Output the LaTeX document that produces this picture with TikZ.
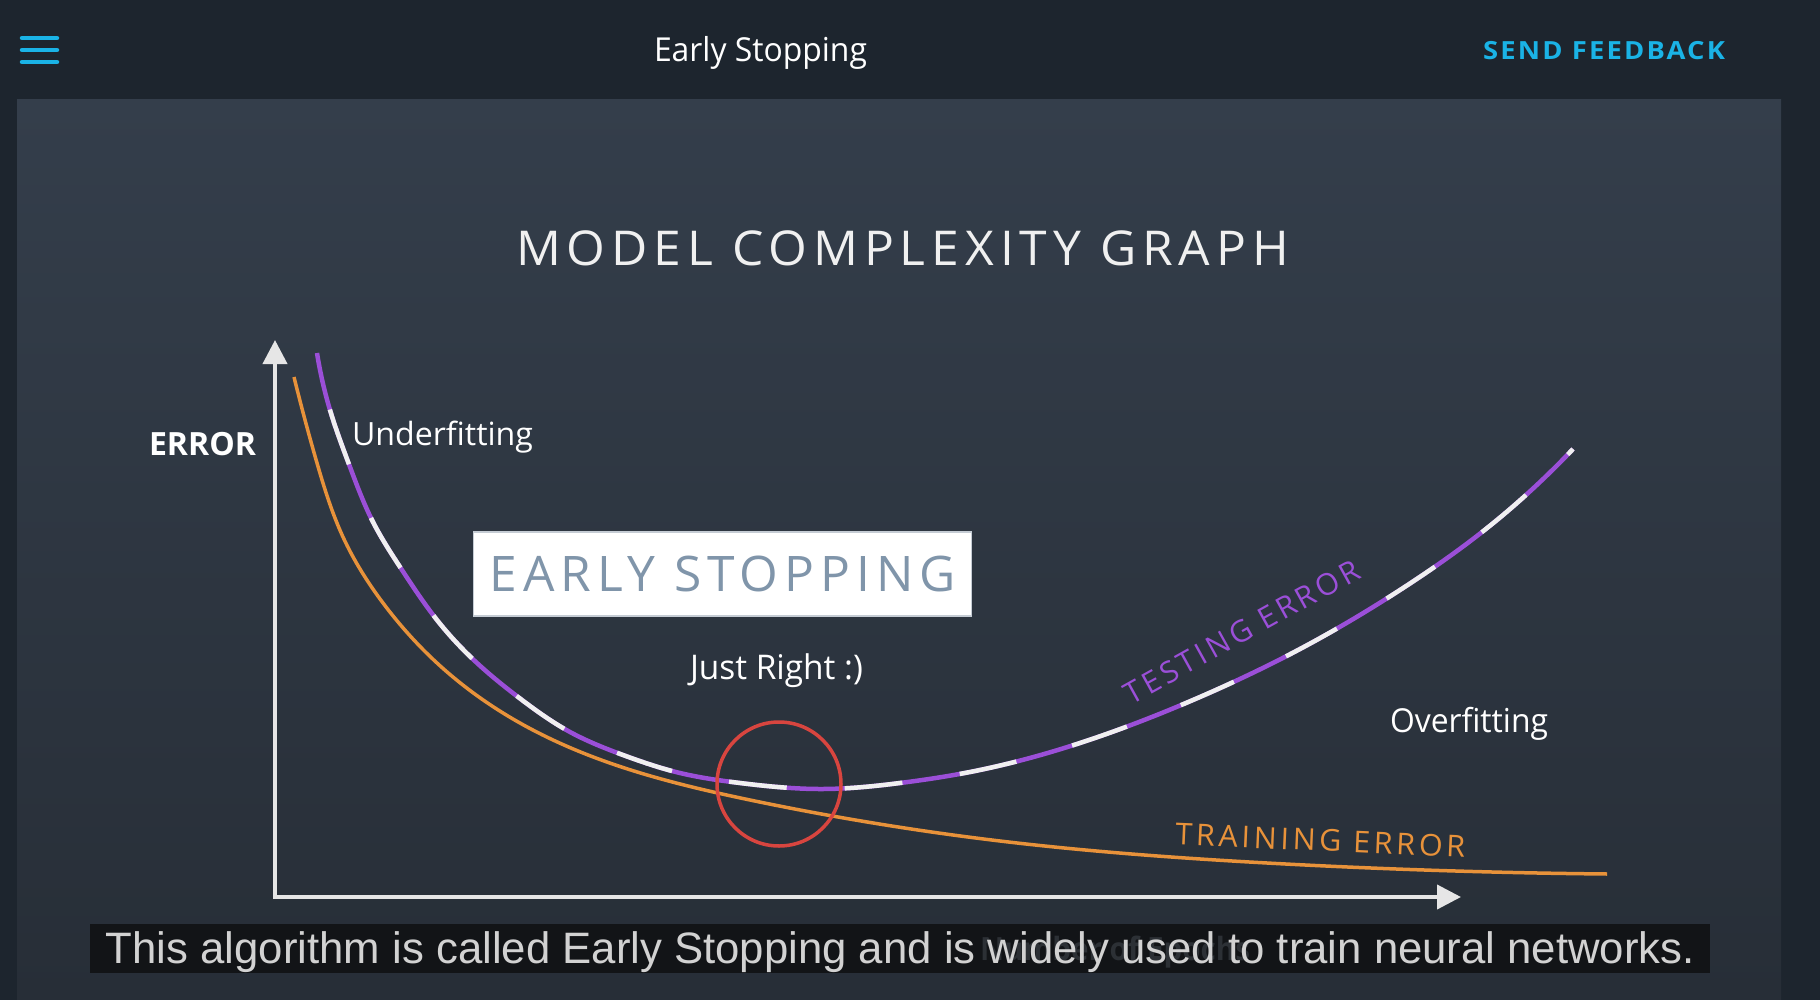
\documentclass[tikz,border=0pt]{standalone}
\usepackage{graphicx}
\usepackage{fontspec}
\setmainfont{Open Sans}
\newfontfamily\capfont{Liberation Sans}
\newfontfamily\spacedA[LetterSpace=12]{Open Sans}
\newfontfamily\spacedB[LetterSpace=8]{Open Sans}
\usetikzlibrary{arrows.meta,hobby}
\newcommand{\fitw}[2]{\resizebox{#1}{\height}{#2}}
\definecolor{hdr}{HTML}{1D252E}
\definecolor{paneltop}{HTML}{343E4B}
\definecolor{panelbot}{HTML}{272E37}
\definecolor{cyanx}{HTML}{1AB3E6}
\definecolor{purplex}{HTML}{9B4FD8}
\definecolor{orangex}{HTML}{E8923A}
\definecolor{redx}{HTML}{D8453F}
\definecolor{axisx}{HTML}{E6E6E6}
\definecolor{boxtext}{HTML}{8095AA}
\definecolor{boxedge}{HTML}{C5CCD4}
\definecolor{capbg}{HTML}{121417}
\definecolor{captext}{HTML}{D2D2D2}
\definecolor{faint}{HTML}{2C3035}
\tikzset{
  lbl/.style={inner sep=0pt, anchor=base, text=white},
  axisline/.style={draw=axisx, line width=4pt, -{Triangle[width=24pt,length=24pt]}},
  menuline/.style={draw=cyanx, line width=4.5pt, line cap=round},
  testcurve/.style={line width=4.5pt},
  traincurve/.style={draw=orangex, line width=3.5pt},
}
\begin{document}
\begin{tikzpicture}[x=1pt,y=-1pt]
\useasboundingbox (0,0) rectangle (1820,1000);
% background
\fill[hdr] (0,0) rectangle (1820,1000);
\shade[top color=paneltop, bottom color=panelbot] (17,100) rectangle (1781,1000);
\fill[hdr] (0,0) rectangle (1820,99);
% menu icon
\coordinate (m1a) at (22,38); \coordinate (m1b) at (57,38);
\coordinate (m2a) at (22,50); \coordinate (m2b) at (57,50);
\coordinate (m3a) at (22,62); \coordinate (m3b) at (57,62);
\draw[menuline] (m1a) -- (m1b);
\draw[menuline] (m2a) -- (m2b);
\draw[menuline] (m3a) -- (m3b);
% header texts
\node[lbl] (hdrtitle) at (760.5,62) {\fontsize{33}{40}\selectfont\fitw{213pt}{Early Stopping}};
\node[lbl, text=cyanx] (feedback) at (1604,60) {\fontsize{25}{30}\selectfont\spacedB\bfseries\fitw{242pt}{SEND FEEDBACK}};
% title
\node[lbl, text=white!94!black] (title) at (902.5,266) {\fontsize{48}{56}\selectfont\spacedA\fitw{773pt}{MODEL COMPLEXITY GRAPH}};
% axes
\coordinate (O) at (275,897);
\coordinate (ytip) at (275,340);
\coordinate (xtip) at (1461,897);
\draw[axisline] (275,899) -- (ytip);
\draw[axisline] (273,897) -- (xtip);
\node[lbl] (errlbl) at (202.5,455) {\fontsize{32}{38}\selectfont\bfseries\fitw{107pt}{ERROR}};
% training curve
\draw[traincurve, use Hobby shortcut] (294,377) .. (317,463) .. (343,537) .. (383,603) .. (437,663) .. (503,713) .. (583,753)
 .. (750,800) .. (1000,841) .. (1267,863) .. (1607,874);
% testing curve
\def\testpath{[use Hobby shortcut] (317,353) .. (330,410) .. (350,467) .. (373,522) .. (402,570) .. (437,620) .. (477,663)
 .. (522,700) .. (570,732) .. (623,755) .. (680,773) .. (740,783) .. (823,789)
 .. (900,783) .. (970,772) .. (1083,742) .. (1193,700)
 .. (1300,649) .. (1400,590) .. (1497,520) .. (1540,482) .. (1573,449)}
\draw[testcurve, draw=purplex] \testpath;
\draw[testcurve, draw=white!94!black, dash pattern=on 58pt off 58pt, dash phase=58pt] \testpath;
% labels
\node[lbl] (under) at (442.5,445) {\fontsize{32}{38}\selectfont\fitw{181pt}{Underfitting}};
\node[draw=boxedge, line width=1.2pt, fill=white, minimum width=498pt, minimum height=84pt, inner sep=0pt, text=boxtext] (es) at (722.75,574)
  {\fontsize{49}{56}\selectfont\spacedA\fitw{466pt}{EARLY STOPPING}};
\node[lbl] (just) at (776.5,679) {\fontsize{34}{40}\selectfont\fitw{173pt}{Just Right :)}};
\node[lbl] (over) at (1469,732) {\fontsize{33}{40}\selectfont\fitw{158pt}{Overfitting}};
\node[lbl, text=purplex, rotate=29] (testlbl) at (1247,641) {\fontsize{30}{36}\selectfont\spacedA\fitw{264pt}{TESTING ERROR}};
\node[lbl, text=orangex, rotate=-2.4] (trainlbl) at (1320,851) {\fontsize{30}{36}\selectfont\spacedA\fitw{290pt}{TRAINING ERROR}};
% just right circle
\node[draw=redx, line width=3.5pt, circle, minimum size=124pt, inner sep=0pt] (jr) at (779,784) {};
% caption
\fill[capbg] (90,924) rectangle (1710,973);
\node[lbl, text=faint] (xlbl) at (1115,960) {\fontsize{32}{38}\selectfont\bfseries\fitw{270pt}{Number of Epochs}};
\node[lbl, text=captext] (caption) at (900.5,963) {\fontsize{44}{50}\selectfont\capfont\fitw{1589pt}{This algorithm is called Early Stopping and is widely used to train neural networks.}};
\end{tikzpicture}
\end{document}
